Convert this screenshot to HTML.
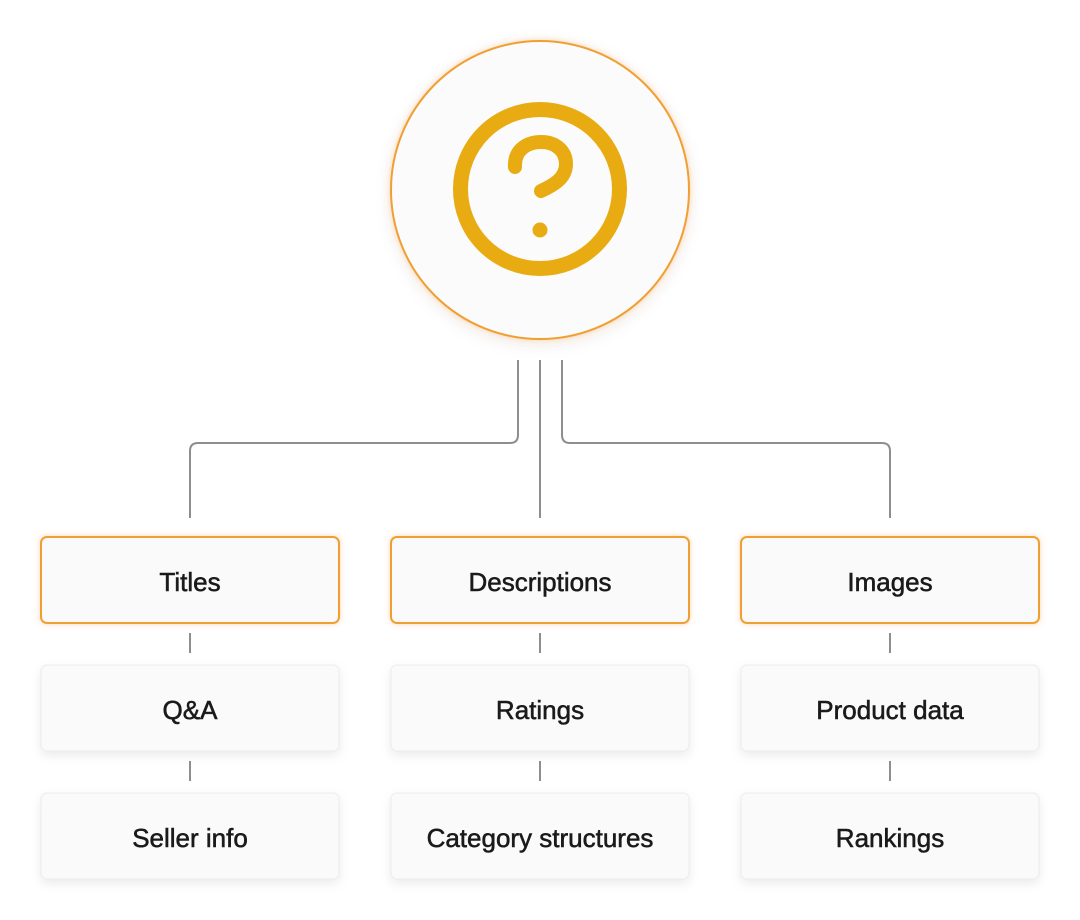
<!DOCTYPE html>
<html><head><meta charset="utf-8"><style>
html,body{margin:0;padding:0;background:#fff;}
svg{display:block;}
text{font-family:"Liberation Sans",Arial,sans-serif;font-size:26px;fill:#1a1a1a;stroke:#1a1a1a;stroke-width:0.55px;text-anchor:middle;dominant-baseline:central;}
</style></head><body>
<svg width="1080" height="920" viewBox="0 0 1080 920" xmlns="http://www.w3.org/2000/svg">
<defs>
<filter id="sh" x="-20%" y="-20%" width="140%" height="160%"><feDropShadow dx="0" dy="4" stdDeviation="5" flood-color="#000" flood-opacity="0.08"/></filter>
<filter id="glow" x="-20%" y="-20%" width="140%" height="140%"><feDropShadow dx="0" dy="0" stdDeviation="3" flood-color="#f5a060" flood-opacity="0.45"/></filter>
<filter id="cs" x="-20%" y="-20%" width="140%" height="140%"><feDropShadow dx="0" dy="4" stdDeviation="8" flood-color="#000" flood-opacity="0.08"/><feDropShadow dx="0" dy="0" stdDeviation="3" flood-color="#f5a060" flood-opacity="0.4"/></filter>
</defs>
<circle cx="540" cy="190" r="149" fill="#fbfbfc" stroke="#f0a030" stroke-width="2" filter="url(#cs)"/>
<circle cx="540" cy="189" r="79.5" fill="none" stroke="#e8ab12" stroke-width="15"/>
<path d="M515 167 C514 150 527 142 541 142 C557 142 566 152 566 164 C566 178 554 185 541 191" fill="none" stroke="#e8ab12" stroke-width="14" stroke-linecap="round" stroke-linejoin="round"/>
<circle cx="540" cy="230" r="7.5" fill="#e8ab12"/>
<g fill="none" stroke="#8e8e8e" stroke-width="2">
<path d="M518 360 V435 Q518 443 510 443 H198 Q190 443 190 451 V518"/>
<path d="M540 360 V518"/>
<path d="M562 360 V435 Q562 443 570 443 H882 Q890 443 890 451 V518"/>
<path d="M190 633 V653 M190 761 V781 M540 633 V653 M540 761 V781 M890 633 V653 M890 761 V781"/>
</g>
<g filter="url(#glow)">
<rect x="41" y="537" width="298" height="86" rx="6" fill="#fafafb" stroke="#f0a030" stroke-width="2"/>
<rect x="391" y="537" width="298" height="86" rx="6" fill="#fafafb" stroke="#f0a030" stroke-width="2"/>
<rect x="741" y="537" width="298" height="86" rx="6" fill="#fafafb" stroke="#f0a030" stroke-width="2"/>
</g>
<g filter="url(#sh)" fill="#fafafb" stroke="#ececec" stroke-width="1">
<rect x="41" y="665" width="298" height="86" rx="6"/>
<rect x="391" y="665" width="298" height="86" rx="6"/>
<rect x="741" y="665" width="298" height="86" rx="6"/>
<rect x="41" y="793" width="298" height="86" rx="6"/>
<rect x="391" y="793" width="298" height="86" rx="6"/>
<rect x="741" y="793" width="298" height="86" rx="6"/>
</g>
<text x="190" y="582">Titles</text>
<text x="540" y="582">Descriptions</text>
<text x="890" y="582">Images</text>
<text x="190" y="710">Q&amp;A</text>
<text x="540" y="710">Ratings</text>
<text x="890" y="710">Product data</text>
<text x="190" y="838">Seller info</text>
<text x="540" y="838">Category structures</text>
<text x="890" y="838">Rankings</text>
</svg>
</body></html>
